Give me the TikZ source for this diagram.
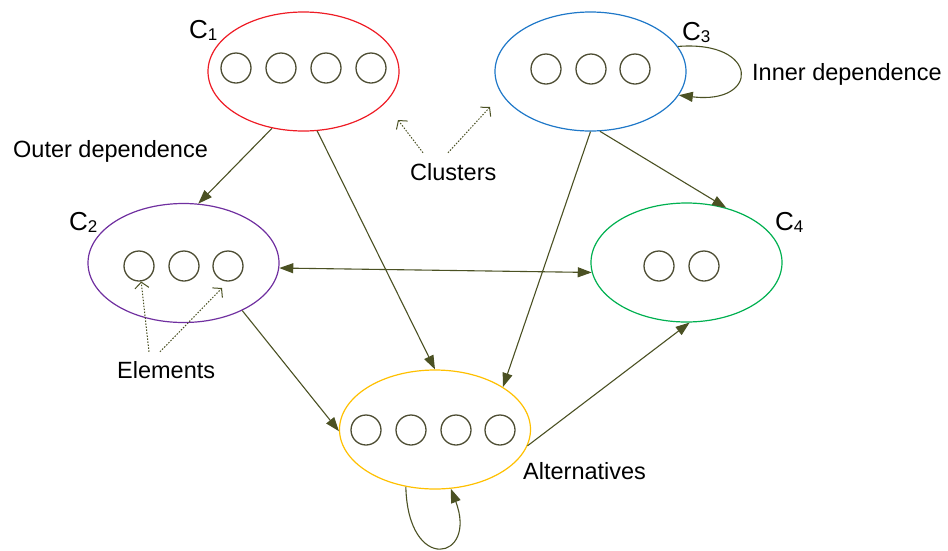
\documentclass[tikz,border=0pt]{standalone}
\usepackage{fontspec}
\setmainfont{Liberation Sans}
\usetikzlibrary{shapes.geometric,arrows.meta}
\definecolor{arrcol}{HTML}{4B5123}
\definecolor{elcol}{HTML}{4D4D33}
\definecolor{cred}{HTML}{EE1C25}
\definecolor{cblue}{HTML}{1F78C8}
\definecolor{cpurple}{HTML}{7030A0}
\definecolor{cgreen}{HTML}{00B050}
\definecolor{cyellow}{HTML}{FFC000}
\tikzset{
  cluster/.style={ellipse, draw, line width=1.2pt, minimum width=191pt, minimum height=119pt, inner sep=0pt},
  elem/.style={circle, draw=elcol, line width=1.3pt, minimum size=30pt, inner sep=0pt},
  link/.style={draw=arrcol, line width=1.1pt, -{Triangle[length=14pt,width=10pt]}},
  biglink/.style={draw=arrcol, line width=1.1pt, {Triangle[length=14pt,width=10pt]}-{Triangle[length=14pt,width=10pt]}},
  pointer/.style={draw=arrcol, line width=1pt, dash pattern=on 1.5pt off 1.5pt, -{Straight Barb[length=6pt,width=14pt]}},
  lbl/.style={font=\fontsize{23.5}{28}\selectfont, inner sep=0pt, anchor=base west},
  clab/.style={font=\fontsize{26}{30}\selectfont, inner sep=0pt, anchor=base west}
}
\newcommand{\clname}[1]{C{\fontsize{17}{17}\selectfont\raisebox{-2.5pt}{#1}}}
\begin{document}
\begin{tikzpicture}[x=1pt,y=-1pt]
\useasboundingbox (0,0) rectangle (948,550);
% clusters
\node[cluster, draw=cred] (c1) at (303.5,71.5) {};
\node[cluster, draw=cblue] (c3) at (590.5,71.5) {};
\node[cluster, draw=cpurple] (c2) at (183.5,263) {};
\node[cluster, draw=cgreen] (c4) at (686.5,262.5) {};
\node[cluster, draw=cyellow] (alt) at (435,429.5) {};
% elements
\foreach \x [count=\i] in {236,281,326,371} \node[elem] (c1e\i) at (\x,68) {};
\foreach \x [count=\i] in {546,591,635} \node[elem] (c3e\i) at (\x,69) {};
\foreach \x [count=\i] in {139,184,228} \node[elem] (c2e\i) at (\x,266) {};
\foreach \x [count=\i] in {659,704} \node[elem] (c4e\i) at (\x,266) {};
\foreach \x [count=\i] in {366,411,456,500} \node[elem] (alte\i) at (\x,430) {};
% labels
\node[clab] (l1) at (189,38) {\clname{1}};
\node[clab] (l3) at (682,40) {\clname{3}};
\node[clab] (l2) at (69,230) {\clname{2}};
\node[clab] (l4) at (775,230) {\clname{4}};
\node[lbl] (outer) at (13,157) {Outer dependence};
\node[lbl] (inner) at (752,80) {Inner dependence};
\node[lbl] (cl) at (410,180) {Clusters};
\node[lbl] (el) at (117,378) {Elements};
\node[lbl] (al) at (523,479) {Alternatives};
% connectors
\draw[link] (c1.241.7) -- (c2.76.6);
\draw[link] (c1.283) -- (alt.90);
\draw[link] (c3.270) -- (alt.32.4);
\draw[link] (c3.279.2) -- (c4.54.1);
\draw[biglink] (c2.357) -- (c4.186.9);
\draw[link] (c2.321.7) -- (alt.181.5);
\draw[link] (alt.350.4) -- (c4.273.3);
\draw[link] (c3.16) .. controls (760,40) and (760,105) .. (c3.345);
\draw[link] (alt.243) .. controls (408,575) and (478,560) .. (alt.285);
% pointers
\coordinate (p1) at (398,120);
\coordinate (p2) at (490,107);
\coordinate (p3) at (222,288);
\draw[pointer] ([xshift=13pt,yshift=10pt]cl.north west) -- (p1);
\draw[pointer] ([xshift=38pt,yshift=10pt]cl.north west) -- (p2);
\draw[pointer] ([xshift=32pt,yshift=9pt]el.north west) -- (c2e1.-82);
\draw[pointer] ([xshift=43pt,yshift=9pt]el.north west) -- (p3);
\end{tikzpicture}
\end{document}
